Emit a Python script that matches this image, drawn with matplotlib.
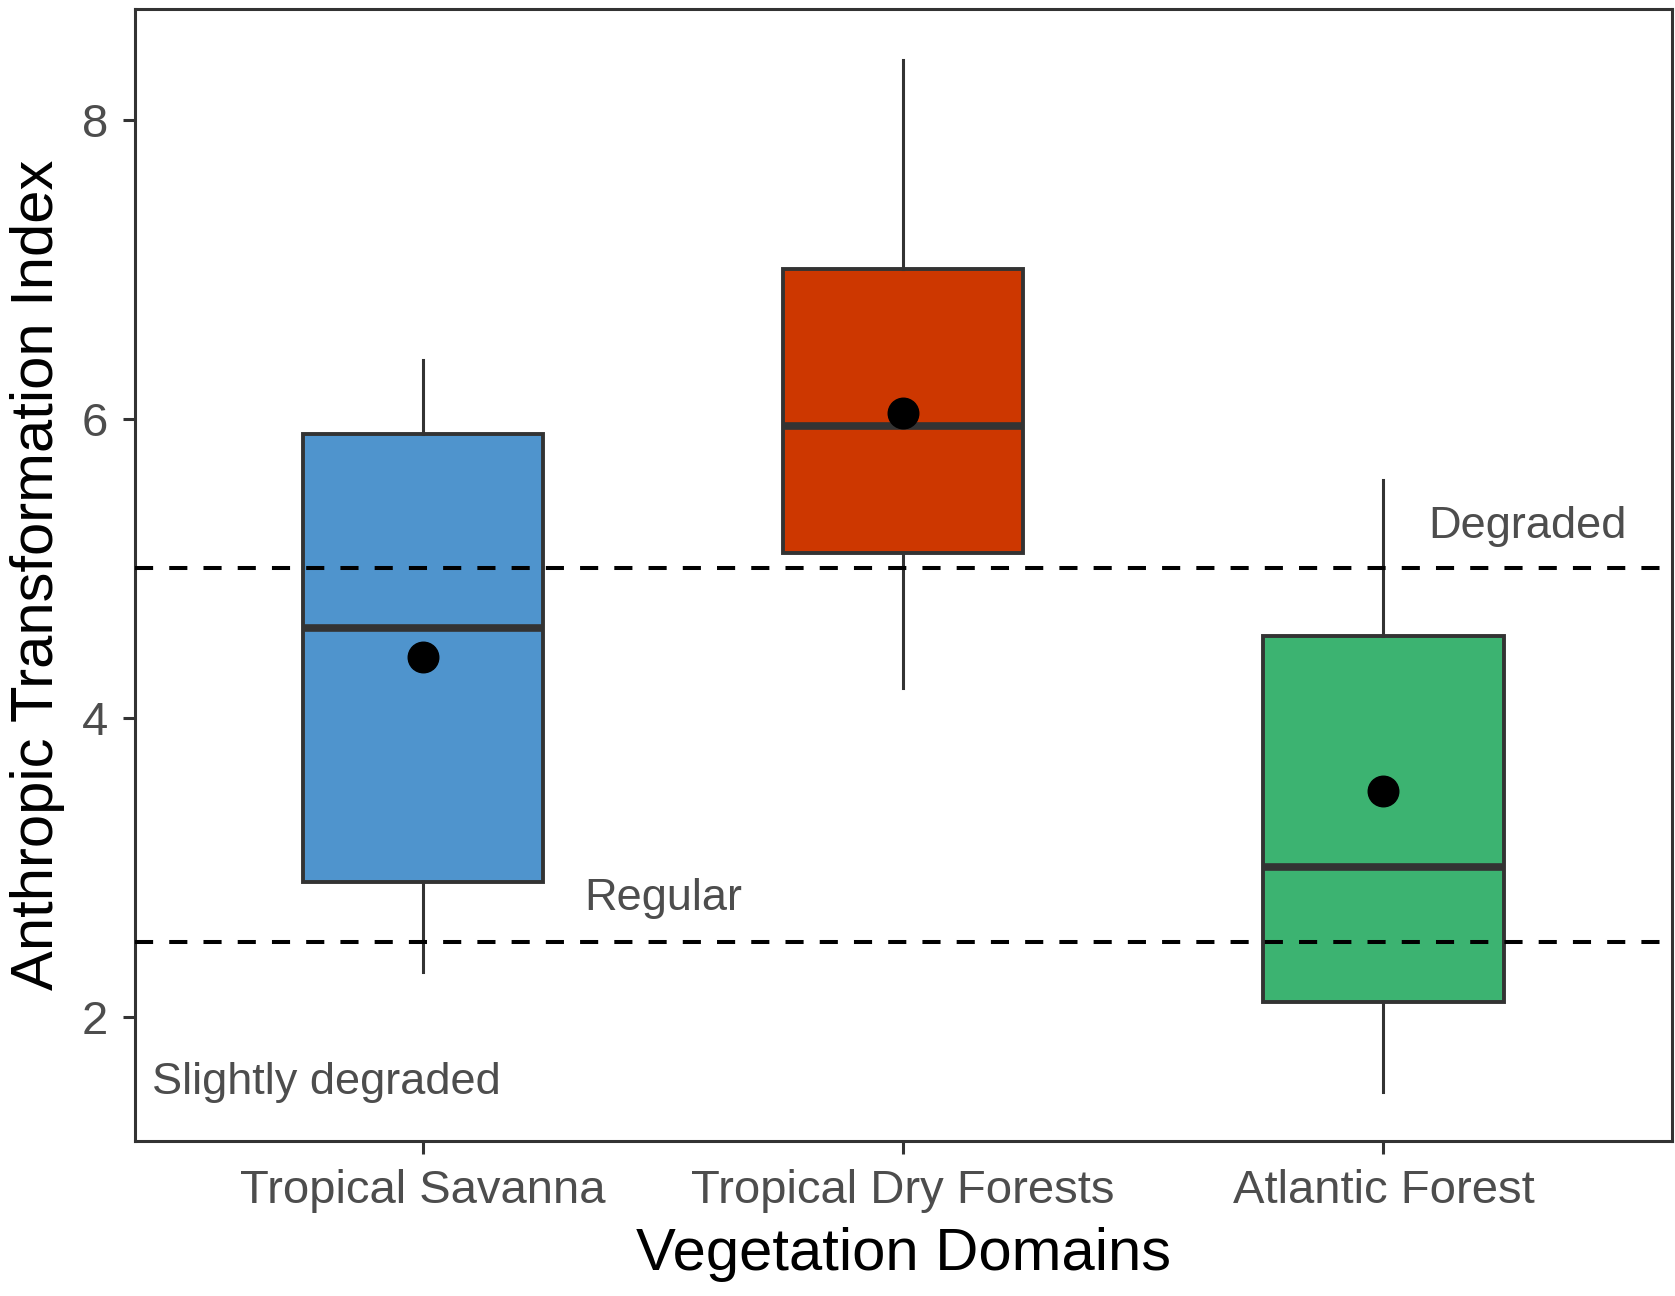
import matplotlib
matplotlib.use("Agg")
import matplotlib.pyplot as plt

plt.rcParams['font.family'] = ['Liberation Sans', 'DejaVu Sans']

# data
domains = ["Tropical Savanna", "Tropical Dry Forests", "Atlantic Forest"]
whisker_low = [2.3, 4.2, 1.5]
q1 = [2.9, 5.1, 2.1]
medians = [4.6, 5.95, 3.0]
q3 = [5.9, 7.0, 4.55]
whisker_high = [6.39, 8.4, 5.59]
means = [4.41, 6.04, 3.51]
fill_colors = ["#4F94CD", "#CD3700", "#3CB371"]

thresholds = [5.0, 2.5]
class_labels = ["Degraded", "Regular", "Slightly degraded"]
class_x = [3.3, 1.5, 0.8]
class_y = [5.28, 2.79, 1.56]

fig = plt.figure(figsize=(16.75, 12.96), dpi=100)
ax = fig.add_axes([0.0804, 0.1196, 0.9176, 0.8738])

stats = []
for i, name in enumerate(domains):
    stats.append({"label": name, "whislo": whisker_low[i], "q1": q1[i],
                  "med": medians[i], "q3": q3[i], "whishi": whisker_high[i],
                  "fliers": []})

positions = list(range(1, len(domains) + 1))
bp = ax.bxp(stats, positions=positions, widths=0.5, patch_artist=True,
            showcaps=False, showfliers=False,
            boxprops=dict(edgecolor="#333333", linewidth=2.8),
            whiskerprops=dict(color="#333333", linewidth=2.2),
            medianprops=dict(color="#333333", linewidth=5.5, solid_capstyle="butt"))
for patch, c in zip(bp["boxes"], fill_colors):
    patch.set_facecolor(c)
    patch.set_zorder(2)

for t in thresholds:
    ax.axhline(t, color="black", linewidth=2.9, dashes=(4.5, 4), zorder=3)

ax.plot(positions, means, "o", color="black", markersize=22, zorder=4)

for lab, x, y in zip(class_labels, class_x, class_y):
    ax.text(x, y, lab, ha="center", va="center", fontsize=32.5, color="#4D4D4D")

ax.set_xlim(0.4, 3.6)
ax.set_ylim(1.171, 8.743)
ax.set_yticks([2, 4, 6, 8])
ax.set_xticks(positions)
ax.set_xticklabels(domains)

for s in ax.spines.values():
    s.set_color("#333333")
    s.set_linewidth(2.2)
ax.tick_params(axis="both", length=9, width=2.2, color="#333333",
               labelsize=34, labelcolor="#4D4D4D")
ax.tick_params(axis="x", pad=11)
ax.tick_params(axis="y", pad=10)

ax.set_xlabel("Vegetation Domains", fontsize=43, color="black", labelpad=10)
ax.set_ylabel("Anthropic Transformation Index", fontsize=43, color="black", labelpad=12)

fig.savefig("out.png", dpi=100, facecolor="white")
